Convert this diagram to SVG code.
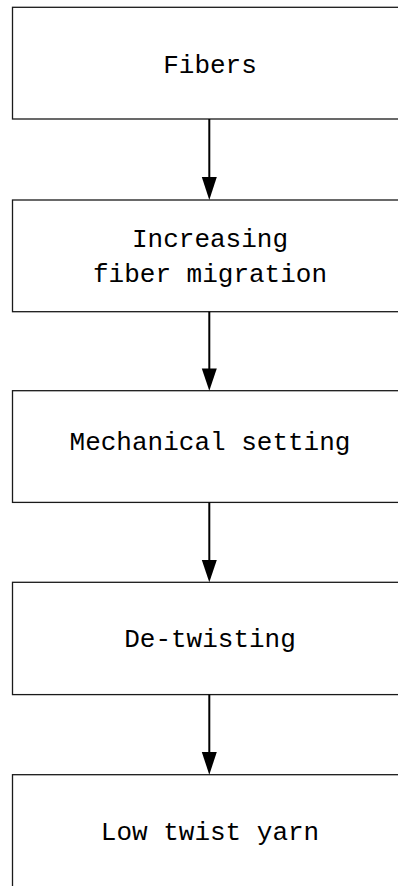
<svg xmlns="http://www.w3.org/2000/svg" width="398" height="886" viewBox="0 0 398 886">
  <style>
    .box { fill: #ffffff; stroke: #1a1a1a; stroke-width: 1.3; }
    .label { font-family: "Liberation Mono", "DejaVu Sans Mono", monospace; font-size: 26px; fill: #000000; text-anchor: middle; }
    .link { stroke: #000000; stroke-width: 2; fill: none; }
    .head { fill: #000000; stroke: none; }
  </style>
  <rect width="398" height="886" fill="#ffffff"/>

  <!-- process steps -->
  <g id="fibers">
    <rect class="box" x="12.5" y="7.3" width="396" height="111.7"/>
    <text class="label" x="210" y="72.5">Fibers</text>
  </g>
  <g id="migration">
    <rect class="box" x="12.5" y="200" width="396" height="111.7"/>
    <text class="label" x="210" y="246.5">Increasing</text>
    <text class="label" x="210" y="281.5">fiber migration</text>
  </g>
  <g id="setting">
    <rect class="box" x="12.5" y="390.7" width="396" height="111.7"/>
    <text class="label" x="210" y="450">Mechanical setting</text>
  </g>
  <g id="detwisting">
    <rect class="box" x="12.5" y="582.3" width="396" height="112.3"/>
    <text class="label" x="210" y="647">De-twisting</text>
  </g>
  <g id="yarn">
    <rect class="box" x="12.5" y="774.7" width="396" height="120"/>
    <text class="label" x="210" y="839.5">Low twist yarn</text>
  </g>

  <!-- connectors -->
  <g id="connectors">
    <line class="link" x1="209.3" y1="119" x2="209.3" y2="180"/>
    <polygon class="head" points="201.8,177 216.8,177 209.3,200"/>
    <line class="link" x1="209.3" y1="311.7" x2="209.3" y2="372"/>
    <polygon class="head" points="201.8,368.5 216.8,368.5 209.3,390.7"/>
    <line class="link" x1="209.3" y1="502.4" x2="209.3" y2="563"/>
    <polygon class="head" points="201.8,560 216.8,560 209.3,582.3"/>
    <line class="link" x1="209.3" y1="694.6" x2="209.3" y2="755"/>
    <polygon class="head" points="201.8,752 216.8,752 209.3,774.7"/>
  </g>
</svg>
